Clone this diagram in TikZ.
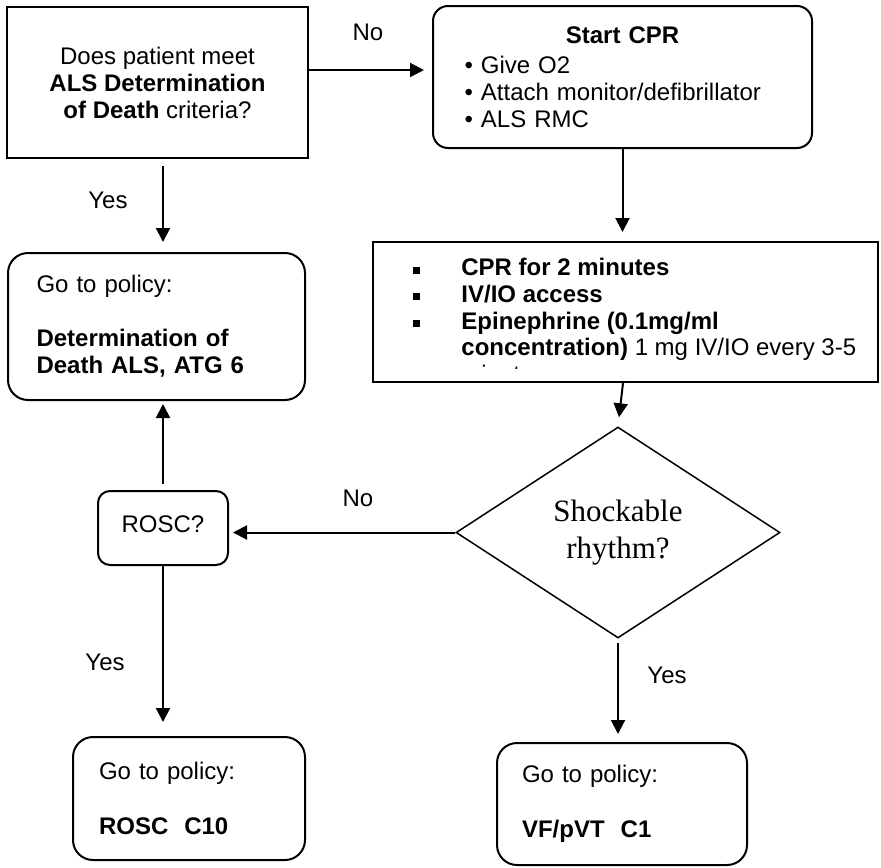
\documentclass[tikz,border=0pt]{standalone}
\usepackage{fontspec}
\setmainfont{Liberation Sans}
\newfontfamily\timesfont{Liberation Serif}
\usetikzlibrary{arrows.meta, shapes.geometric}

\begin{document}
\begin{tikzpicture}[x=0.5pt, y=-0.5pt, font=\fontsize{12}{13.5}\selectfont,
	box/.style={draw, line width=1pt, inner sep=0pt, align=left},
	policy/.style={box, rounded corners=10pt, text width=#1},
	arr/.style={line width=1pt, -{Triangle[length=7pt, width=7pt]}},
	lbl/.style={inner sep=0pt}]
	\def\sqb{\makebox[24pt][l]{\rule[1pt]{3.5pt}{3.5pt}}}
	\useasboundingbox (0,0) rectangle (881,867);

	\node[box, minimum width=150.5pt, minimum height=75.5pt, align=center]	(ask) at (157.5,82.5) {Does patient meet\\\textbf{ALS Determination}\\\textbf{of Death} criteria?};
	\node[box, rounded corners=7.5pt, minimum width=189.5pt, minimum height=71pt, text width=158pt]	(cpr) at (622.5,77) {\makebox[\linewidth]{\textbf{Start CPR}}\\[1.5pt]• Give O2\\• Attach monitor/defibrillator\\• ALS RMC};
	\node[policy=120pt, minimum width=148.5pt, minimum height=73.5pt]	(death) at (156.5,326.5) {Go to policy:\\[13.5pt]\textbf{Determination of}\\\textbf{Death ALS, ATG 6}};
	\node[box, minimum width=252.5pt, minimum height=70pt]	(dose) at (625.5,312) {};
	\begin{scope}
		\clip (dose.north west) rectangle (878,368.5);
		\node[lbl, anchor=north west, align=left, font=\fontsize{12}{13.35}\selectfont]	(dosetext) at (413,258) {\sqb\textbf{CPR for 2 minutes}\\\sqb\textbf{IV/IO access}\\\sqb\textbf{Epinephrine (0.1mg/ml}\\\hspace*{24pt}\textbf{concentration)} 1 mg IV/IO every 3-5\\\hspace*{24pt}minutes};
	\end{scope}
	\node[draw, diamond, aspect=1.54, line width=0.75pt, minimum width=162pt, minimum height=105.5pt, inner sep=0pt, align=center, font=\timesfont\fontsize{15.5}{18.5}\selectfont]	(shock) at (618,532.5) {Shockable\\rhythm?};
	\node[box, rounded corners=6pt, minimum width=65pt, minimum height=37pt]	(rosc) at (163,528) {\raisebox{4pt}{ROSC?}};
	\node[policy=90pt, minimum width=116pt, minimum height=61.5pt]	(roscpol) at (189,798.5) {Go to policy:\\[14pt]\textbf{ROSC\ \ C10}};
	\node[policy=100pt, minimum width=125pt, minimum height=61pt]	(vfpol) at (622,804) {Go to policy:\\[14pt]\textbf{VF/pVT\ \ C1}};

	\node[lbl]	(noA) at (368,32) {No};
	\node[lbl]	(yesA) at (108,200) {Yes};
	\node[lbl]	(noB) at (358,498) {No};
	\node[lbl]	(yesB) at (105,662) {Yes};
	\node[lbl]	(yesC) at (667,675) {Yes};

	\draw[arr, shorten >=4pt]			(ask.east |- 0,70) -- (cpr.west |- 0,70);
	\draw[arr, shorten <=3.5pt, shorten >=5pt]	(ask.south -| rosc.north) -- (death.north -| rosc.north);
	\draw[arr, shorten >=4.5pt]			(cpr.south) -- (dose.north -| cpr.south);
	\draw[arr, shorten >=4.5pt]			([xshift=-1.25pt]dose.south) -- (shock.north);
	\draw[arr, shorten >=2pt]			(shock.west) -- (rosc.east |- shock.west);
	\draw[arr, shorten <=3pt, shorten >=1.5pt]	(rosc.north) -- (death.south -| rosc.north);
	\draw[arr, shorten >=7pt]			(rosc.south) -- (roscpol.north -| rosc.south);
	\draw[arr, shorten <=2pt, shorten >=4pt]	(shock.south) -- (shock.south |- vfpol.north);
\end{tikzpicture}
\end{document}
